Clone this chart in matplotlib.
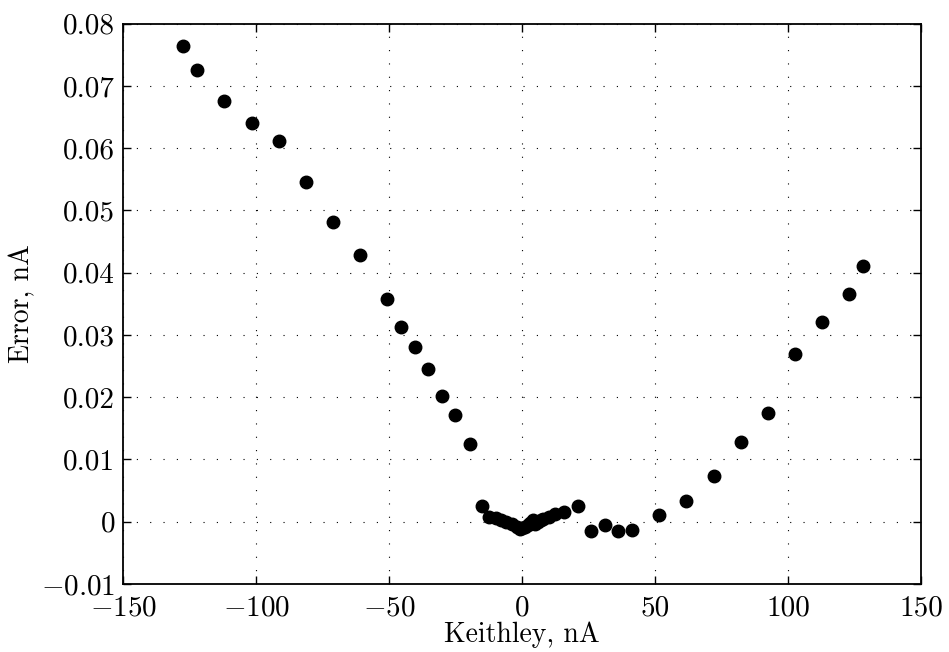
import matplotlib
matplotlib.use("Agg")
import matplotlib.pyplot as plt

# Computer Modern look, like the LaTeX/MATLAB original
plt.rcParams['font.family'] = 'serif'
plt.rcParams['font.serif'] = ['cmr10']
plt.rcParams['mathtext.fontset'] = 'cm'
plt.rcParams['axes.formatter.use_mathtext'] = True
plt.rcParams['axes.unicode_minus'] = True

# Readings
keithley = [-127.4, -122.4, -112.0, -101.7, -91.6, -81.4, -71.2, -61.0,
            -50.8, -45.6, -40.5, -35.4, -30.0, -25.2, -19.8, -15.1,
            -12.3, -9.9, -8.0, -6.0, -4.0, -2.0, -1.0, 0.0, 1.0, 2.0,
            3.0, 4.0, 5.0, 6.0, 7.0, 8.0, 10.0, 12.5, 15.6, 20.9,
            26.0, 31.0, 36.2, 41.2, 51.5, 61.7, 72.0, 82.2, 92.4,
            102.6, 112.8, 123.0, 128.1]
error = [0.0764, 0.0725, 0.0676, 0.0640, 0.0612, 0.0545, 0.0482, 0.0428,
         0.0358, 0.0313, 0.0280, 0.0245, 0.0202, 0.0172, 0.0125, 0.0026,
         0.0007, 0.0006, 0.0003, 0.0000, -0.0003, -0.0008, -0.0012, -0.0010,
         -0.0008, -0.0006, -0.0002, 0.0002, -0.0003, 0.0000, 0.0002, 0.0004,
         0.0008, 0.0012, 0.0016, 0.0025,
         -0.0015, -0.0006, -0.0015, -0.0013, 0.0011, 0.0034, 0.0074,
         0.0128, 0.0175, 0.0270, 0.0321, 0.0366, 0.0411]

xticks = [-150, -100, -50, 0, 50, 100, 150]
yticks = [-0.01, 0, 0.01, 0.02, 0.03, 0.04, 0.05, 0.06, 0.07, 0.08]
ytick_labels = ['$-0.01$', '0', '0.01', '0.02', '0.03', '0.04', '0.05',
                '0.06', '0.07', '0.08']
xtick_labels = ['$-150$', '$-100$', '$-50$', '0', '50', '100', '150']

fig = plt.figure(figsize=(9.49, 6.52), dpi=100)
ax = fig.add_axes([0.13, 0.1043, 0.8405, 0.8595])

ax.plot(keithley, error, 'o', color='black', markersize=9, linestyle='none')

ax.set_xlim(-150, 150)
ax.set_ylim(-0.01, 0.08)
ax.set_xticks(xticks)
ax.set_xticklabels(xtick_labels)
ax.set_yticks(yticks)
ax.set_yticklabels(ytick_labels)

ax.grid(True, color='black', linestyle=(0, (1, 11)), linewidth=0.8)
ax.tick_params(direction='in', length=6, width=1, top=True, right=True,
               labelsize=21, pad=6)
ax.tick_params(axis='x', pad=8)
for sp in ax.spines.values():
    sp.set_linewidth(1.3)

ax.set_xlabel('Keithley, nA', fontsize=20, labelpad=0)
ax.set_ylabel('Error, nA', fontsize=20, labelpad=4)

fig.savefig('out.png', dpi=100)
